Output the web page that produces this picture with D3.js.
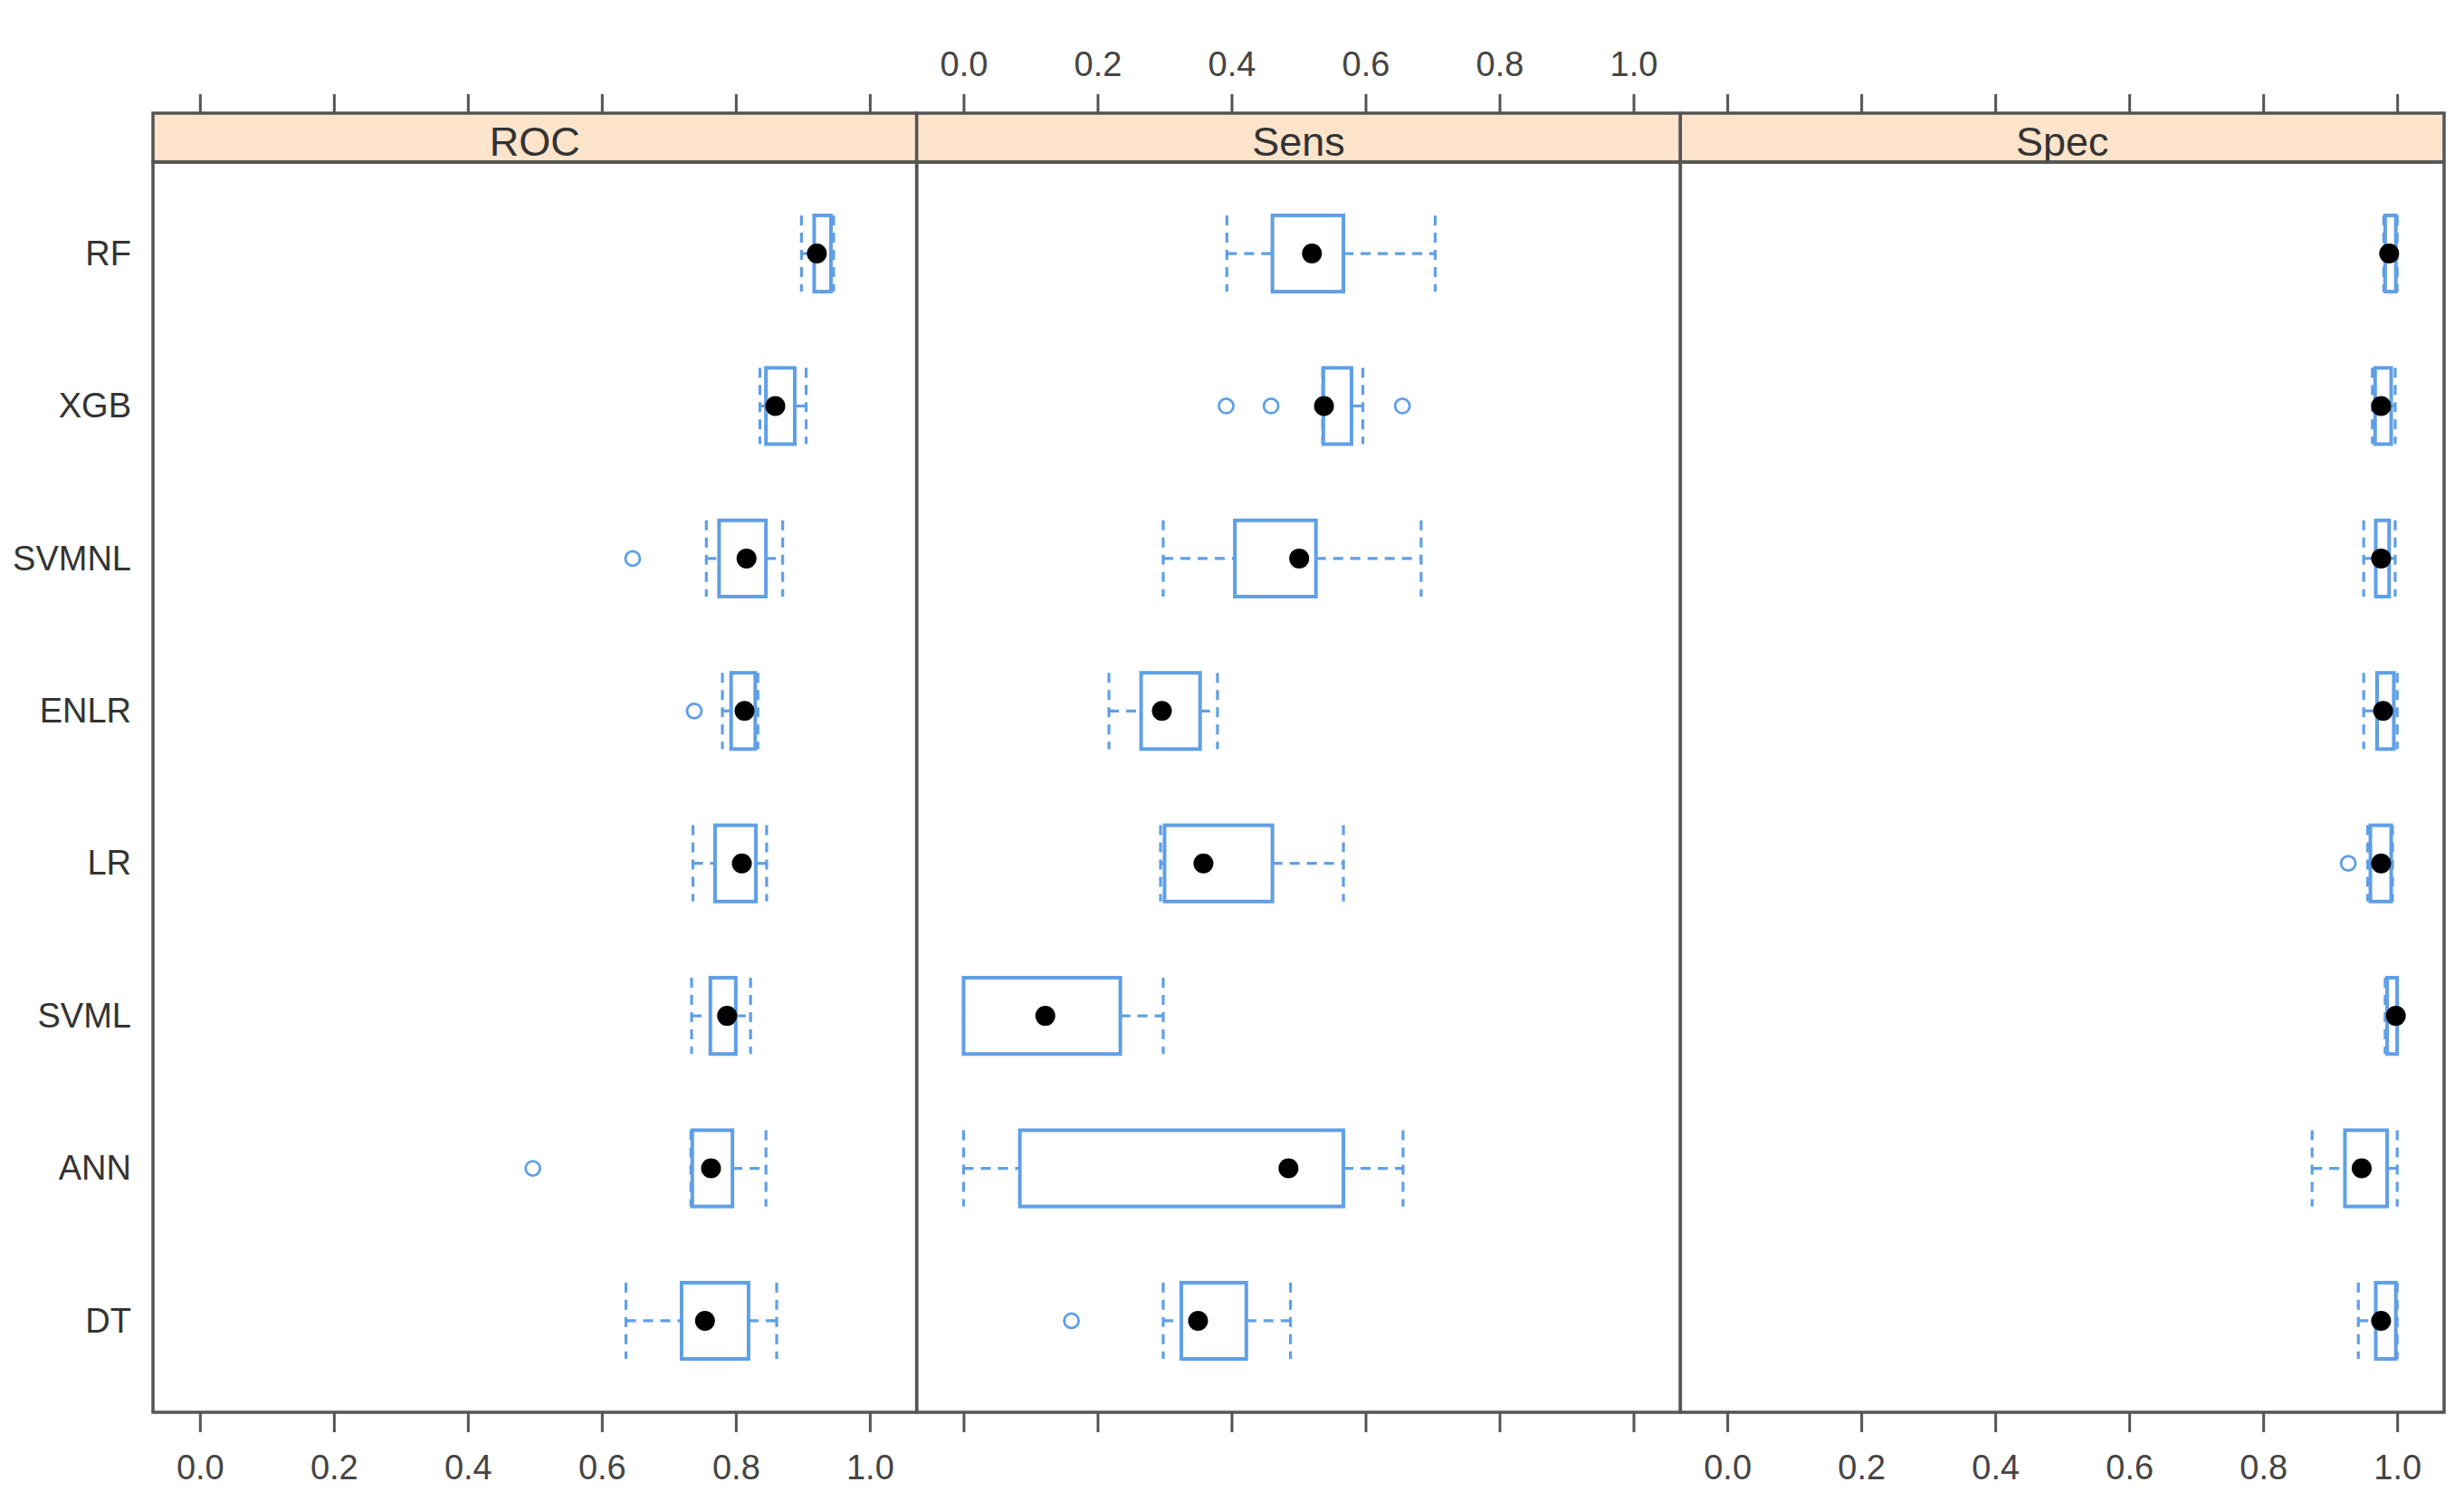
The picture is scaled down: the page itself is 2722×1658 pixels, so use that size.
<!DOCTYPE html>
<html>
<head>
<meta charset="utf-8">
<script src="https://cdn.jsdelivr.net/npm/d3@7"></script>
<style>
  html, body { margin: 0; padding: 0; background: #ffffff; }
  svg { display: block; }
</style>
</head>
<body>
<script>
// ---------------- data ----------------
const models = ["RF", "XGB", "SVMNL", "ENLR", "LR", "SVML", "ANN", "DT"];
const metrics = ["ROC", "Sens", "Spec"];
const xTicks = [0.0, 0.2, 0.4, 0.6, 0.8, 1.0];

// [lower whisker, Q1, median, Q3, upper whisker] per model (same order as models)
const rocStats = [
  [0.898, 0.917, 0.921, 0.942, 0.946],
  [0.836, 0.845, 0.859, 0.888, 0.905],
  [0.756, 0.775, 0.816, 0.845, 0.870],
  [0.780, 0.793, 0.813, 0.829, 0.833],
  [0.736, 0.769, 0.809, 0.830, 0.846],
  [0.734, 0.762, 0.787, 0.800, 0.822],
  [0.733, 0.735, 0.763, 0.795, 0.845],
  [0.636, 0.719, 0.754, 0.819, 0.861]
];
const sensStats = [
  [0.393, 0.461, 0.520, 0.567, 0.704],
  [0.536, 0.537, 0.538, 0.579, 0.596],
  [0.298, 0.405, 0.501, 0.526, 0.683],
  [0.217, 0.265, 0.296, 0.353, 0.379],
  [0.294, 0.300, 0.358, 0.461, 0.567],
  [0.000, 0.000, 0.122, 0.234, 0.298],
  [0.000, 0.084, 0.485, 0.567, 0.656],
  [0.298, 0.325, 0.350, 0.422, 0.488]
];
const specStats = [
  [0.980, 0.982, 0.988, 0.998, 1.000],
  [0.963, 0.967, 0.976, 0.991, 0.997],
  [0.950, 0.968, 0.976, 0.988, 0.997],
  [0.950, 0.970, 0.979, 0.995, 1.000],
  [0.956, 0.960, 0.976, 0.991, 0.993],
  [0.982, 0.985, 0.998, 1.000, 1.000],
  [0.873, 0.922, 0.947, 0.985, 1.000],
  [0.942, 0.968, 0.976, 0.998, 1.000]
];
// outliers: [model, value]
const rocOutliers = [["SVMNL", 0.646], ["ENLR", 0.738], ["ANN", 0.497]];
const sensOutliers = [["XGB", 0.392], ["XGB", 0.459], ["XGB", 0.655], ["DT", 0.161]];
const specOutliers = [["LR", 0.927]];

const statsByMetric = { ROC: rocStats, Sens: sensStats, Spec: specStats };
const outliersByMetric = { ROC: rocOutliers, Sens: sensOutliers, Spec: specOutliers };

// ---------------- layout ----------------
const W = 2722, H = 1658;
const plotLeft = 169, plotRight = 2700;
const stripTop = 125, stripBottom = 179, panelBottom = 1560;
const boxColor = "#5f9fe6";
const frameColor = "#555555";
const textColor = "#333333";
const font = "'Liberation Sans', Arial, sans-serif";

const svg = d3.select("body").append("svg")
  .attr("width", W).attr("height", H)
  .attr("viewBox", `0 0 ${W} ${H}`);
svg.append("rect").attr("width", W).attr("height", H).attr("fill", "#ffffff");

const panelScale = d3.scaleBand().domain(metrics).range([plotLeft, plotRight]).padding(0);
const y = d3.scalePoint().domain(models).range([stripBottom, panelBottom]).padding(0.6);
const boxH = y.step() * 0.5;

metrics.forEach((m, pi) => {
  const x0 = panelScale(m), pw = panelScale.bandwidth();
  const x = d3.scaleLinear().domain([-0.07, 1.07]).range([x0, x0 + pw]);
  const g = svg.append("g");

  // strip
  g.append("rect")
    .attr("x", x0).attr("y", stripTop)
    .attr("width", pw).attr("height", stripBottom - stripTop)
    .attr("fill", "#fde4cb").attr("stroke", frameColor).attr("stroke-width", 3.5);
  g.append("text")
    .attr("x", x0 + pw / 2).attr("y", stripBottom - 7)
    .attr("text-anchor", "middle")
    .attr("font-family", font).attr("font-size", 45)
    .attr("fill", textColor)
    .text(m);

  // top axis (labels only on middle panel)
  const topAxis = d3.axisTop(x).tickValues(xTicks).tickSize(21).tickPadding(20)
    .tickFormat(pi === 1 ? d3.format(".1f") : () => "");
  const ta = g.append("g").attr("transform", `translate(0,${stripTop})`).call(topAxis);
  ta.select(".domain").remove();
  ta.selectAll(".tick line").attr("stroke", frameColor).attr("stroke-width", 3);
  ta.selectAll(".tick text").attr("font-family", font).attr("font-size", 38).attr("fill", "#444");

  // bottom axis (labels on outer panels)
  const botAxis = d3.axisBottom(x).tickValues(xTicks).tickSize(22).tickPadding(25)
    .tickFormat(pi !== 1 ? d3.format(".1f") : () => "");
  const ba = g.append("g").attr("transform", `translate(0,${panelBottom})`).call(botAxis);
  ba.select(".domain").remove();
  ba.selectAll(".tick line").attr("stroke", frameColor).attr("stroke-width", 3);
  ba.selectAll(".tick text").attr("font-family", font).attr("font-size", 38).attr("fill", "#444");

  // boxes
  const stats = statsByMetric[m];
  const bg = g.append("g");
  models.forEach((mod, i) => {
    const [lo, q1, med, q3, hi] = stats[i];
    const cy = y(mod);
    const dash = "11,8";
    // whiskers (dashed)
    bg.append("line").attr("x1", x(lo)).attr("x2", x(q1)).attr("y1", cy).attr("y2", cy)
      .attr("stroke", boxColor).attr("stroke-width", 3.2).attr("stroke-dasharray", dash);
    bg.append("line").attr("x1", x(q3)).attr("x2", x(hi)).attr("y1", cy).attr("y2", cy)
      .attr("stroke", boxColor).attr("stroke-width", 3.2).attr("stroke-dasharray", dash);
    // caps (dashed)
    [lo, hi].forEach(v => {
      bg.append("line").attr("x1", x(v)).attr("x2", x(v))
        .attr("y1", cy - boxH / 2).attr("y2", cy + boxH / 2)
        .attr("stroke", boxColor).attr("stroke-width", 3.2).attr("stroke-dasharray", dash);
    });
    // box
    bg.append("rect")
      .attr("x", x(q1)).attr("y", cy - boxH / 2)
      .attr("width", Math.max(x(q3) - x(q1), 0.5)).attr("height", boxH)
      .attr("fill", "none").attr("stroke", boxColor).attr("stroke-width", 4);
    // median dot
    bg.append("circle").attr("cx", x(med)).attr("cy", cy).attr("r", 11).attr("fill", "#000");
  });
  // outliers
  outliersByMetric[m].forEach(([mod, v]) => {
    bg.append("circle").attr("cx", x(v)).attr("cy", y(mod)).attr("r", 8)
      .attr("fill", "none").attr("stroke", boxColor).attr("stroke-width", 2.8);
  });

  // panel frame
  g.append("rect")
    .attr("x", x0).attr("y", stripBottom)
    .attr("width", pw).attr("height", panelBottom - stripBottom)
    .attr("fill", "none").attr("stroke", frameColor).attr("stroke-width", 3.5);
});

// y-axis labels
const ya = svg.append("g").attr("transform", `translate(${plotLeft},0)`)
  .call(d3.axisLeft(y).tickSize(0).tickPadding(24));
ya.select(".domain").remove();
ya.selectAll(".tick text").attr("font-family", font).attr("font-size", 38).attr("fill", textColor);
</script>
</body>
</html>
